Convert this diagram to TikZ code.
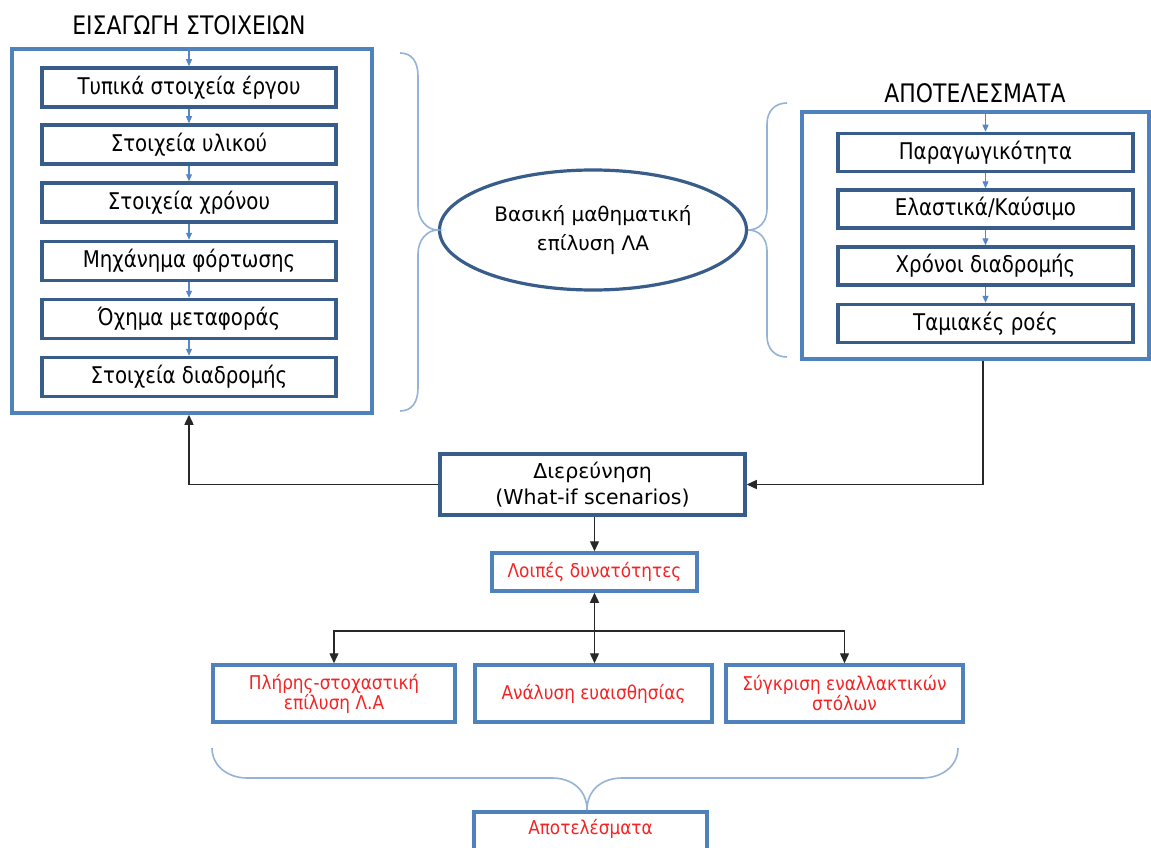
\documentclass[tikz,border=0pt]{standalone}
\usepackage{fontspec}
\setmainfont{DejaVu Sans}[FakeStretch=0.86]
\newfontfamily\wfont{DejaVu Sans}
\newfontfamily\redfont{DejaVu Sans}[FakeStretch=0.89]
\usetikzlibrary{shapes.geometric,arrows.meta}
\definecolor{outerblue}{RGB}{79,129,189}
\definecolor{innerblue}{RGB}{56,93,138}
\definecolor{bracecol}{RGB}{149,179,215}
\definecolor{smallarrow}{RGB}{84,134,200}
\definecolor{redtxt}{RGB}{245,35,35}
\definecolor{conn}{RGB}{40,40,40}
\tikzset{
  outerbox/.style={draw=outerblue,line width=3.5pt,inner sep=0pt},
  innerbox/.style={draw=innerblue,line width=3.5pt,minimum width=294pt,minimum height=39pt,inner sep=0pt,font=\fontsize{23}{26}\selectfont},
  rinnerbox/.style={innerbox,minimum width=295pt,minimum height=38pt},
  redbox/.style={draw=outerblue,line width=3.5pt,inner sep=0pt,align=center,text=redtxt,font=\redfont\fontsize{19}{20}\selectfont},
  titletext/.style={font=\fontsize{25.5}{28}\selectfont,inner sep=0pt},
  bluearr/.style={draw=smallarrow,line width=1.1pt,-{Triangle[length=7pt,width=6pt]}},
  blackarr/.style={draw=conn,line width=1.4pt,-{Triangle[length=10pt,width=9pt]}},
  bracestyle/.style={draw=bracecol,line width=1.6pt},
}
\begin{document}
\begin{tikzpicture}[x=1pt,y=-1pt]
\clip (0,0) rectangle (1151,848);
\fill[white] (0,0) rectangle (1151,848);
% left group
\node[titletext] (ltitle) at (189,25) {ΕΙΣΑΓΩΓΗ ΣΤΟΙΧΕΙΩΝ};
\node[outerbox,minimum width=360pt,minimum height=364pt] (lout) at (192,231) {};
\node[innerbox] (l1) at (189,87.5) {Τυπικά στοιχεία έργου};
\node[innerbox] (l2) at (189,144.5) {Στοιχεία υλικού};
\node[innerbox] (l3) at (189,202.5) {Στοιχεία χρόνου};
\node[innerbox] (l4) at (189,261) {Μηχάνημα φόρτωσης};
\node[innerbox] (l5) at (189,319) {Όχημα μεταφοράς};
\node[innerbox] (l6) at (189,377) {Στοιχεία διαδρομής};
\draw[bluearr] (l1.north |- lout.north) -- (l1.north);
\draw[bluearr] (l1.south) -- (l2.north);
\draw[bluearr] (l2.south) -- (l3.north);
\draw[bluearr] (l3.south) -- (l4.north);
\draw[bluearr] (l4.south) -- (l5.north);
\draw[bluearr] (l5.south) -- (l6.north);
% ellipse
\node[ellipse,draw=innerblue,line width=3.2pt,minimum width=307pt,minimum height=120pt,inner sep=0pt,align=center,font=\wfont\fontsize{20}{29}\selectfont] (ell) at (593,230) {Βασική μαθηματική\\επίλυση ΛΑ};
% braces
\draw[bracestyle] (400,53) .. controls (412,53) and (418,62) .. (418,76) -- (418,206) .. controls (418,220) and (427,230) .. (ell.west) .. controls (427,230) and (418,240) .. (418,254) -- (418,388) .. controls (418,402) and (412,411) .. (400,411);
\draw[bracestyle] (787,103) .. controls (775,103) and (767,111) .. (767,124) -- (767,209) .. controls (767,222) and (759,230) .. (ell.east) .. controls (759,230) and (767,238) .. (767,251) -- (767,336) .. controls (767,349) and (775,357) .. (787,357);
% right group
\node[titletext] (rtitle) at (975,93) {ΑΠΟΤΕΛΕΣΜΑΤΑ};
\node[outerbox,minimum width=347pt,minimum height=247pt] (rout) at (975.5,235.5) {};
\node[rinnerbox] (r1) at (985.5,152.5) {Παραγωγικότητα};
\node[rinnerbox] (r2) at (985.5,209) {Ελαστικά/Καύσιμο};
\node[rinnerbox] (r3) at (985.5,266) {Χρόνοι διαδρομής};
\node[rinnerbox] (r4) at (985.5,323.5) {Ταμιακές ροές};
\draw[bluearr] (r1.north |- rout.north) -- (r1.north);
\draw[bluearr] (r1.south) -- (r2.north);
\draw[bluearr] (r2.south) -- (r3.north);
\draw[bluearr] (r3.south) -- (r4.north);
% middle
\node[draw=innerblue,line width=3.5pt,minimum width=305pt,minimum height=61pt,inner sep=0pt,align=center,font=\wfont\fontsize{20.5}{26}\selectfont] (dir) at (592.5,484.5) {Διερεύνηση\\(What-if scenarios)};
\draw[blackarr] (dir.west) -| ([xshift=-3pt]lout.south);
\draw[blackarr] ([xshift=7.5pt]rout.south) |- (dir.east);
\node[redbox,minimum width=205pt,minimum height=38pt] (loip) at (594.5,572) {Λοιπές δυνατότητες};
\draw[blackarr] (dir.south -| loip.north) -- (loip.north);
% bottom boxes
\node[redbox,minimum width=242pt,minimum height=57pt] (plir) at (334,693.5) {Πλήρης-στοχαστική\\επίλυση Λ.Α};
\node[redbox,minimum width=237pt,minimum height=57pt] (anal) at (593.5,693.5) {Ανάλυση ευαισθησίας};
\node[redbox,minimum width=237pt,minimum height=57pt] (syg) at (844.5,693.5) {Σύγκριση εναλλακτικών\\στόλων};
\coordinate (j) at (594,631);
\draw[blackarr,{Triangle[length=10pt,width=9pt]}-{Triangle[length=10pt,width=9pt]}] (loip.south) -- (loip.south |- anal.north);
\draw[blackarr] (j) -| (plir.north);
\draw[blackarr] (j) -| (syg.north);
% bottom brace
\node[redbox,minimum width=233pt,minimum height=60pt,anchor=north] (apot) at (590.5,810) {};
\node[text=redtxt,font=\redfont\fontsize{19}{20}\selectfont,inner sep=0pt] (apott) at (590.5,829) {Αποτελέσματα};
\draw[bracestyle] (212,748) .. controls (212,766) and (228,778) .. (247,778) -- (552,778) .. controls (572,778) and (587,790) .. (apot.north -| 587,0) .. controls (587,790) and (602,778) .. (622,778) -- (922,778) .. controls (942,778) and (958,766) .. (958,748);
\end{tikzpicture}
\end{document}
